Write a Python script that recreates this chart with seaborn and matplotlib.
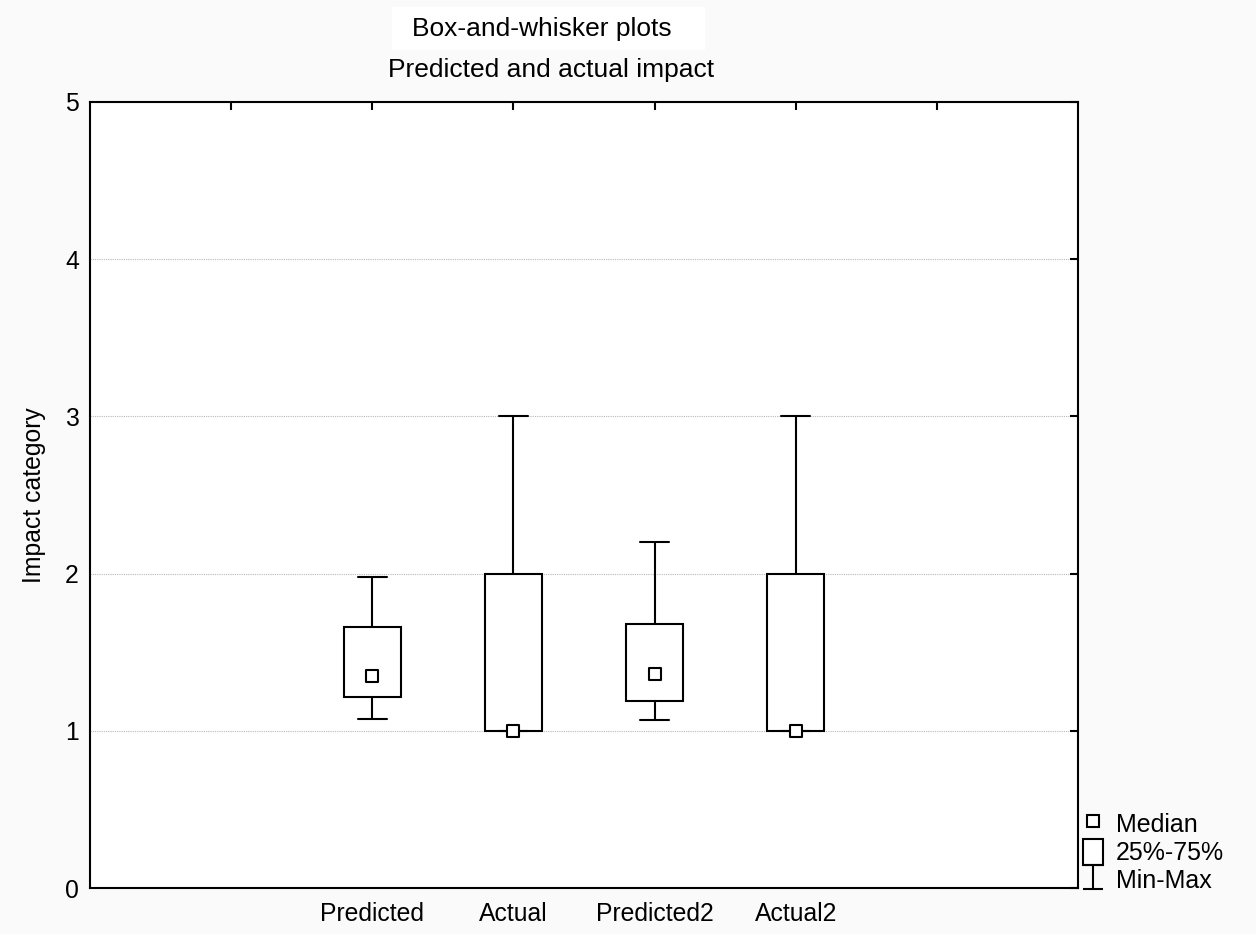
import numpy as np
import pandas as pd
import matplotlib
matplotlib.use("Agg")
import matplotlib.pyplot as plt
from matplotlib.lines import Line2D
from matplotlib.patches import Patch, Rectangle
from matplotlib.path import Path
import seaborn as sns

# Five-number summaries per group: min, 25%, median, 75%, max
categories = ["Predicted", "Actual", "Predicted2", "Actual2"]
minimums = [1.075, 1.0, 1.07, 1.0]
q1s = [1.215, 1.0, 1.19, 1.0]
medians = [1.35, 1.0, 1.36, 1.0]
q3s = [1.66, 2.0, 1.68, 2.0]
maximums = [1.98, 3.0, 2.20, 3.0]
ytick_values = [0, 1, 2, 3, 4, 5]

# Long-form table: with five points per group the linear quartiles are the
# 2nd and 4th values, so the boxes reproduce the summaries exactly.
rows = []
for cat, a, b, c, d, e in zip(categories, minimums, q1s, medians, q3s, maximums):
    for v in (a, b, c, d, e):
        rows.append({"group": cat, "impact": v})
df = pd.DataFrame(rows)
med_df = pd.DataFrame({"group": categories, "impact": medians})

sns.set_style("white")
plt.rcParams["font.family"] = ["Liberation Sans", "DejaVu Sans"]
plt.rcParams["text.color"] = "black"
plt.rcParams["axes.labelcolor"] = "black"

fig = plt.figure(figsize=(12.56, 9.34), dpi=100)
fig.patch.set_facecolor("#fafafa")
ax = fig.add_axes([90 / 1256, 1 - 888 / 934, 988 / 1256, 786 / 934])
ax.set_facecolor("white")

lw = 1.5
sns.boxplot(
    data=df, x="group", y="impact", order=categories, ax=ax,
    whis=(0, 100), width=0.405, color="white", linecolor="black",
    linewidth=lw, fill=True, showfliers=False,
    medianprops=dict(visible=False),
    boxprops=dict(facecolor="white", edgecolor="black", linewidth=lw),
    whiskerprops=dict(color="black", linewidth=lw),
    capprops=dict(color="black", linewidth=lw),
)
sns.stripplot(
    data=med_df, x="group", y="impact", order=categories, ax=ax,
    jitter=False, marker="s", size=8.5, color="white",
    edgecolor="black", linewidth=lw, zorder=5,
)

ax.set_xlim(-2, 5)
ax.set_ylim(0, 5)
ax.set_xticks([-1, 0, 1, 2, 3, 4])
ax.set_xticklabels([""] + categories + [""])
ax.set_yticks(ytick_values)
ax.set_yticklabels([str(v) for v in ytick_values])
ax.set_xlabel("")
ax.set_ylabel("Impact category", fontsize=17.8, labelpad=14, color="black")

ax.tick_params(axis="both", direction="in", length=6, width=lw, color="black",
               labelsize=17.8, top=True, right=True, labelcolor="black")
ax.tick_params(axis="x", pad=10)
ax.tick_params(axis="y", pad=8)

for s in ax.spines.values():
    s.set_visible(True)
    s.set_color("black")
    s.set_linewidth(lw)

ax.yaxis.grid(True, linestyle=(0, (1, 1)), color="#b8b8b8", linewidth=0.8)
ax.xaxis.grid(False)
ax.set_axisbelow(True)

# Titles
fig.patches.append(Rectangle((392 / 1256, 1 - 50 / 934), 313 / 1256, 43 / 934,
                             transform=fig.transFigure, facecolor="white",
                             edgecolor="none", zorder=0))
fig.text(542 / 1256, 1 - 29 / 934, "Box-and-whisker plots", ha="center",
         va="center", fontsize=19, color="black")
fig.text(551 / 1256, 1 - 70 / 934, "Predicted and actual impact", ha="center",
         va="center", fontsize=19, color="black")

# Legend
ibeam = Path(
    [(-0.85, 1), (0.85, 1), (0, 1), (0, -1), (-0.85, -1), (0.85, -1)],
    [Path.MOVETO, Path.LINETO, Path.MOVETO, Path.LINETO, Path.MOVETO, Path.LINETO],
)
handles = [
    Line2D([], [], marker="s", linestyle="none", markersize=8, markerfacecolor="white",
           markeredgecolor="black", markeredgewidth=lw),
    Patch(facecolor="white", edgecolor="black", linewidth=lw),
    Line2D([], [], marker=ibeam, linestyle="none", markersize=17,
           markerfacecolor="none", markeredgecolor="black", markeredgewidth=lw),
]
fig.legend(handles, ["Median", "25%-75%", "Min-Max"], loc="lower left",
           bbox_to_anchor=(1083 / 1256, 1 - 893 / 934), bbox_transform=fig.transFigure,
           frameon=False, fontsize=18, borderpad=0, borderaxespad=0,
           handlelength=0.8, handleheight=1.25, handletextpad=0.5,
           labelspacing=0.05, labelcolor="black")

fig.savefig("out.png", dpi=100, facecolor=fig.get_facecolor())
